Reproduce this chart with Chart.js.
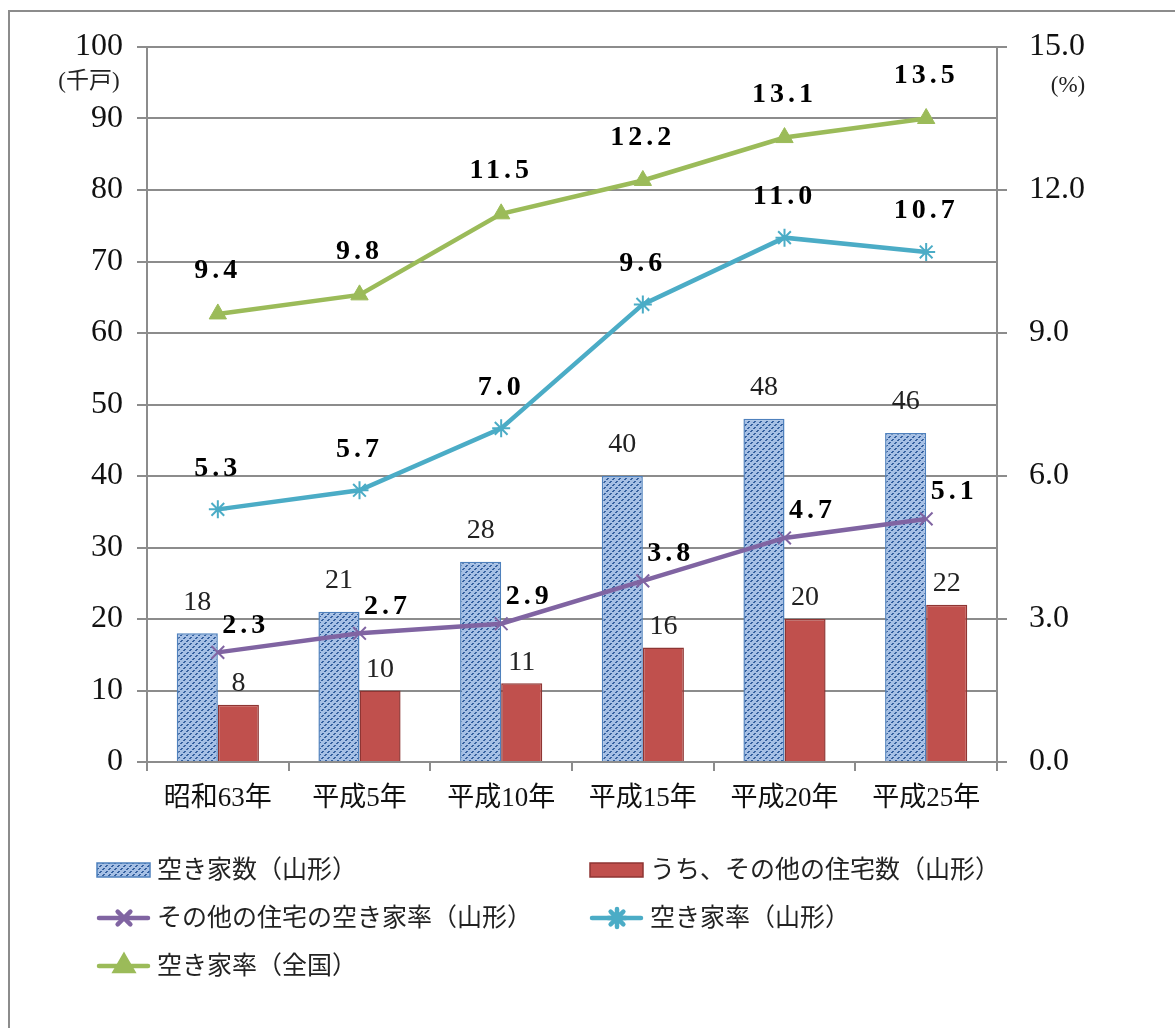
<!DOCTYPE html>
<html>
<head>
<meta charset="utf-8">
<script src="https://cdn.jsdelivr.net/npm/chart.js@4.4.1/dist/chart.umd.min.js"></script>
<style>
  html, body { margin: 0; background: #fff; }
</style>
</head>
<body>
<canvas id="grafico" width="1175" height="1028"></canvas>
<script>
// 年次
const anos = ['昭和63年', '平成5年', '平成10年', '平成15年', '平成20年', '平成25年'];

// 千戸
const akiyaSu = [18, 21, 28, 40, 48, 46];
const sonotaJutakuSu = [8, 10, 11, 16, 20, 22];

// %
const sonotaAkiyaRitsu = [2.3, 2.7, 2.9, 3.8, 4.7, 5.1];
const akiyaRitsuYamagata = [5.3, 5.7, 7.0, 9.6, 11.0, 10.7];
const akiyaRitsuZenkoku = [9.4, 9.8, 11.5, 12.2, 13.1, 13.5];

const fonteNum = "'Liberation Serif', 'Noto Sans CJK JP', serif";
const fonteJp = "'Liberation Serif', 'Noto Sans CJK JP', sans-serif";
const corGrade = '#8c8c8c';

// trama azul (listras diagonais tracejadas)
function tramaAzul() {
  const c = document.createElement('canvas');
  c.width = 6; c.height = 6;
  const g = c.getContext('2d');
  g.fillStyle = '#a6c0e5';
  g.fillRect(0, 0, 6, 6);
  g.fillStyle = '#34609f';
  for (let i = 0; i < 6; i++) {
    if (i % 3 === 2) continue;
    g.fillRect(i, 5 - i, 1, 1);
    g.fillRect((i + 1) % 6, 5 - i, 1, 1);
  }
  return g.createPattern(c, 'repeat');
}
const azul = tramaAzul();

// rótulos de valor sobre barras e pontos
const rotulos = {
  id: 'rotulos',
  afterDatasetsDraw(chart) {
    const ctx = chart.ctx;
    chart.data.datasets.forEach((ds, i) => {
      const r = ds.rotulo;
      if (!r) return;
      const meta = chart.getDatasetMeta(i);
      meta.data.forEach((el, j) => {
        const v = ds.data[j];
        const txt = r.casas ? v.toFixed(r.casas) : String(v);
        ctx.save();
        ctx.font = r.font;
        ctx.fillStyle = r.cor;
        ctx.letterSpacing = r.espaco || '0px';
        ctx.textAlign = 'center';
        ctx.textBaseline = 'middle';
        ctx.fillText(txt, el.x + r.dx, el.y + r.dy);
        ctx.restore();
      });
    });
  }
};

// moldura, unidades e legenda
const extras = {
  id: 'extras',
  afterDraw(chart) {
    const ctx = chart.ctx;
    ctx.save();
    ctx.strokeStyle = '#8c8c8c';
    ctx.lineWidth = 2;
    ctx.beginPath();
    ctx.moveTo(9, 1028);
    ctx.lineTo(9, 11);
    ctx.lineTo(1175, 11);
    ctx.stroke();

    ctx.fillStyle = '#222';
    ctx.font = "23px " + fonteJp;
    ctx.textAlign = 'center';
    ctx.textBaseline = 'middle';
    ctx.fillText('(千戸)', 89, 82);
    ctx.fillText('(%)', 1068, 86);

    const itens = [
      { ds: 0, x: 97, y: 870 },
      { ds: 1, x: 590, y: 870 },
      { ds: 2, x: 97, y: 918 },
      { ds: 3, x: 590, y: 918 },
      { ds: 4, x: 97, y: 966 }
    ];
    itens.forEach(it => {
      const ds = chart.data.datasets[it.ds];
      if (ds.type === 'bar') {
        ctx.fillStyle = ds.backgroundColor;
        ctx.fillRect(it.x, it.y - 7, 53, 14);
        ctx.strokeStyle = ds.borderColor;
        ctx.lineWidth = 1.5;
        ctx.strokeRect(it.x, it.y - 7, 53, 14);
      } else {
        ctx.strokeStyle = ds.borderColor;
        ctx.lineWidth = ds.borderWidth;
        ctx.lineCap = 'round';
        ctx.beginPath();
        ctx.moveTo(it.x + 2, it.y);
        ctx.lineTo(it.x + 51, it.y);
        ctx.stroke();
        Chart.helpers.drawPoint(ctx, {
          pointStyle: ds.pointStyle,
          radius: ds.pointRadius,
          borderWidth: ds.pointBorderWidth,
          rotation: 0
        }, it.x + 27, it.y);
        if (ds.pointStyle === 'triangle') {
          ctx.fillStyle = ds.pointBackgroundColor;
          ctx.fill();
        }
      }
      ctx.fillStyle = '#222';
      ctx.font = "25px " + fonteJp;
      ctx.textAlign = 'left';
      ctx.textBaseline = 'middle';
      ctx.fillText(ds.label, it.x + 60, it.y + 1);
    });
    ctx.restore();
  }
};

new Chart(document.getElementById('grafico'), {
  data: {
    labels: anos,
    datasets: [
      {
        type: 'bar', label: '空き家数（山形）', data: akiyaSu, yAxisID: 'y', order: 2,
        backgroundColor: azul, borderColor: '#4f81bd', borderWidth: 1.5,
        categoryPercentage: 0.58, barPercentage: 1,
        rotulo: { dx: 0, dy: -31, font: '28px ' + fonteNum, cor: '#222' }
      },
      {
        type: 'bar', label: 'うち、その他の住宅数（山形）', data: sonotaJutakuSu, yAxisID: 'y', order: 2,
        backgroundColor: '#c0504d', borderColor: '#8e3533', borderWidth: 1.5,
        categoryPercentage: 0.58, barPercentage: 1,
        rotulo: { dx: 0, dy: -21, font: '28px ' + fonteNum, cor: '#222' }
      },
      {
        type: 'line', label: 'その他の住宅の空き家率（山形）', data: sonotaAkiyaRitsu, yAxisID: 'y2', order: 1,
        borderColor: '#8064a2', backgroundColor: '#8064a2', borderWidth: 4.5,
        pointStyle: 'crossRot', pointRadius: 9, pointBorderWidth: 2, pointBorderColor: '#8064a2',
        tension: 0,
        rotulo: { dx: 28, dy: -27, casas: 1, font: 'bold 28px ' + fonteNum, cor: '#000', espaco: '4px' }
      },
      {
        type: 'line', label: '空き家率（山形）', data: akiyaRitsuYamagata, yAxisID: 'y2', order: 1,
        borderColor: '#4bacc6', backgroundColor: '#4bacc6', borderWidth: 4.5,
        pointStyle: 'star', pointRadius: 9, pointBorderWidth: 2, pointBorderColor: '#4bacc6',
        tension: 0,
        rotulo: { dx: 0, dy: -41, casas: 1, font: 'bold 28px ' + fonteNum, cor: '#000', espaco: '4px' }
      },
      {
        type: 'line', label: '空き家率（全国）', data: akiyaRitsuZenkoku, yAxisID: 'y2', order: 1,
        borderColor: '#9bbb59', backgroundColor: '#9bbb59', borderWidth: 4.5,
        pointStyle: 'triangle', pointRadius: 10, pointBorderWidth: 1, pointBorderColor: '#9bbb59',
        pointBackgroundColor: '#9bbb59',
        tension: 0,
        rotulo: { dx: 0, dy: -43, casas: 1, font: 'bold 28px ' + fonteNum, cor: '#000', espaco: '4px' }
      }
    ]
  },
  options: {
    responsive: false,
    animation: false,
    layout: { padding: { top: 47, left: 0, right: 0, bottom: 0 } },
    plugins: { legend: { display: false }, tooltip: { enabled: false } },
    scales: {
      x: {
        afterFit: s => { s.height = 266; },
        grid: { offset: true, drawOnChartArea: false, color: corGrade, lineWidth: 2, tickLength: 9 },
        border: { color: corGrade, width: 2 },
        ticks: { font: { family: fonteJp, size: 27 }, color: '#111', padding: 12 }
      },
      y: {
        position: 'left', min: 0, max: 100,
        afterFit: s => { s.width = 147; },
        grid: { color: corGrade, lineWidth: 2, tickLength: 10 },
        border: { color: corGrade, width: 2 },
        ticks: { stepSize: 10, font: { family: fonteNum, size: 32 }, color: '#111', padding: 14 }
      },
      y2: {
        position: 'right', min: 0, max: 15,
        afterFit: s => { s.width = 178; },
        grid: { drawOnChartArea: false, color: corGrade, lineWidth: 2, tickLength: 10 },
        border: { color: corGrade, width: 2 },
        ticks: { stepSize: 3, font: { family: fonteNum, size: 32 }, color: '#111', padding: 22,
                 callback: v => v.toFixed(1) }
      }
    }
  },
  plugins: [rotulos, extras]
});
</script>
</body>
</html>
